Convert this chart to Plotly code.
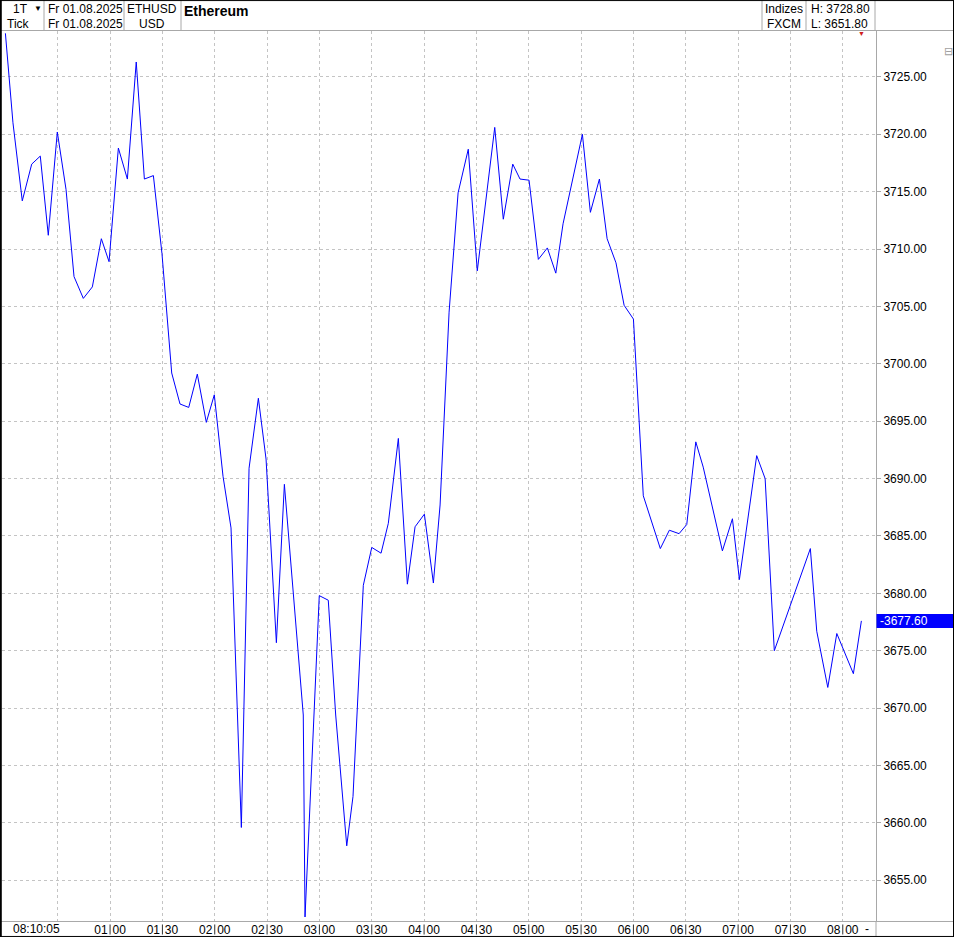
import plotly.graph_objects as go

DAY = "2025-08-01"

times = [
    "00:00:00", "00:04:20", "00:09:40", "00:15:05", "00:20:00", "00:24:35", "00:29:45", "00:34:45", "00:39:20", "00:44:40",
    "00:49:50", "00:55:00", "00:59:25", "01:04:45", "01:09:55", "01:15:00", "01:19:40", "01:24:50", "01:29:45", "01:35:20",
    "01:40:05", "01:45:05", "01:50:00", "01:55:10", "01:59:45", "02:04:45", "02:09:20", "02:15:15", "02:19:40", "02:25:00",
    "02:29:25", "02:35:20", "02:39:55", "02:50:45", "02:51:45", "02:59:55", "03:05:05", "03:09:20", "03:15:40", "03:19:15",
    "03:25:10", "03:30:00", "03:35:20", "03:39:30", "03:45:15", "03:50:25", "03:54:50", "04:00:10", "04:05:20", "04:09:10",
    "04:14:20", "04:19:30", "04:25:20", "04:30:30", "04:40:30", "04:45:25", "04:50:50", "04:55:00", "05:00:10", "05:05:30",
    "05:10:40", "05:15:30", "05:19:40", "05:30:45", "05:35:20", "05:40:30", "05:44:55", "05:50:00", "05:54:40", "06:00:00",
    "06:05:40", "06:15:25", "06:20:35", "06:26:10", "06:30:35", "06:35:45", "06:40:00", "06:51:00", "06:56:45", "07:00:45",
    "07:10:40", "07:15:30", "07:20:45", "07:41:25", "07:45:05", "07:51:25", "07:56:35", "08:06:05", "08:10:40",
]

prices = [
    3728.8, 3721.0, 3714.2, 3717.4, 3718.1, 3711.2, 3720.2, 3715.2, 3707.6, 3705.7,
    3706.7, 3710.9, 3708.9, 3718.8, 3716.1, 3726.3, 3716.1, 3716.4, 3709.6, 3699.2,
    3696.5, 3696.2, 3699.1, 3694.9, 3697.3, 3690.2, 3685.7, 3659.6, 3690.9, 3697.0,
    3691.7, 3675.7, 3689.5, 3669.4, 3651.8, 3679.8, 3679.4, 3669.4, 3658.0, 3662.3,
    3680.7, 3684.0, 3683.5, 3686.1, 3693.5, 3680.8, 3685.8, 3686.9, 3680.9, 3687.7,
    3704.5, 3714.9, 3718.7, 3708.1, 3720.6, 3712.6, 3717.4, 3716.1, 3716.0, 3709.1,
    3710.1, 3707.9, 3712.2, 3720.0, 3713.2, 3716.1, 3710.9, 3708.8, 3705.1, 3703.9,
    3688.5, 3683.9, 3685.5, 3685.2, 3686.0, 3693.2, 3691.0, 3683.7, 3686.5, 3681.2,
    3692.0, 3690.0, 3675.0, 3683.9, 3676.7, 3671.8, 3676.5, 3673.0, 3677.6,
]

tick_times = ["00:30", "01:00", "01:30", "02:00", "02:30", "03:00", "03:30", "04:00",
              "04:30", "05:00", "05:30", "06:00", "06:30", "07:00", "07:30", "08:00"]
tick_labels = ["", "01:00", "01:30", "02:00", "02:30", "03:00", "03:30", "04:00",
               "04:30", "05:00", "05:30", "06:00", "06:30", "07:00", "07:30", "08:00"]
y_ticks = [3655, 3660, 3665, 3670, 3675, 3680, 3685, 3690, 3695, 3700, 3705, 3710, 3715, 3720, 3725]

header_row1 = ["1T", "Fr 01.08.2025", "ETHUSD", "Ethereum", "Indizes", "H: 3728.80"]
header_row2 = ["Tick", "Fr 01.08.2025", "USD", "", "FXCM", "L: 3651.80"]
start_label = "08:10:05"

# ---------------- layout geometry ----------------
W, H = 954, 939
L, R, T, B = 2, 78, 31, 16
PW, PH = W - L - R, H - T - B
FONT = "Liberation Sans, Arial, sans-serif"
GRID = "#c4c4c4"
FRAME = "#a8a8a8"


def px(X):
    return (X - L) / PW


def py(Y):
    return (H - B - Y) / PH


x_vals = [f"{DAY} {t}" for t in times]

fig = go.Figure()
fig.add_trace(go.Scatter(
    x=x_vals, y=prices, mode="lines",
    line=dict(color="#0000ff", width=1),
    hoverinfo="skip", showlegend=False,
))

shapes = []
annotations = []


def hline(y, x0, x1, color, width=1):
    shapes.append(dict(type="line", xref="paper", yref="paper",
                       x0=px(x0), x1=px(x1), y0=py(y), y1=py(y),
                       line=dict(color=color, width=width), layer="above"))


def vline(x, y0, y1, color, width=1):
    shapes.append(dict(type="line", xref="paper", yref="paper",
                       x0=px(x), x1=px(x), y0=py(y0), y1=py(y1),
                       line=dict(color=color, width=width), layer="above"))


def text(X, Y, s, anchor="left", size=12, color="black", bold=False):
    annotations.append(dict(
        xref="paper", yref="paper", x=px(X), y=py(Y), text=f"<b>{s}</b>" if bold else s,
        showarrow=False, xanchor=anchor, yanchor="middle",
        font=dict(family=FONT, size=size, color=color),
    ))


# header separators
hline(30.5, 0, 954, FRAME)
for xv in [44, 124, 181, 762, 806, 875]:
    vline(xv, 0, 30.5, FRAME)

# y axis line extension into bottom strip
vline(876, 923, 939, FRAME)
hline(923.5, 0, 954, FRAME)

# outer black frame
vline(0.8, 0, 939, "black", 2)
vline(953.5, 0, 939, "black", 1)
hline(0.5, 0, 954, "black", 1)
hline(938.5, 0, 954, "black", 1)

# dark bars through the time labels
for tt, lab in zip(tick_times, tick_labels):
    if lab:
        shapes.append(dict(type="line", xref="x", yref="paper",
                           x0=f"{DAY} {tt}", x1=f"{DAY} {tt}", y0=py(926.5), y1=py(936.5),
                           line=dict(color="#303030", width=1), layer="above"))

# current price box
last = prices[-1]
shapes.append(dict(type="rect", xref="paper", yref="y", ysizemode="pixel", yanchor=last,
                   x0=px(876.5), x1=px(953), y0=-7, y1=7,
                   fillcolor="#0000ff", line=dict(width=0), layer="above"))
annotations.append(dict(xref="paper", yref="y", x=px(878), y=last, text=f"-{last:.2f}",
                        showarrow=False, xanchor="left", yanchor="middle",
                        font=dict(family=FONT, size=12, color="white")))

# header texts
text(11, 8.5, header_row1[0])
text(38, 8, "▼", anchor="center", size=8)
text(5, 23.5, header_row2[0])
text(46, 8.5, header_row1[1])
text(46, 23.5, header_row2[1])
text(152, 8.5, header_row1[2], anchor="center")
text(152, 23.5, header_row2[2], anchor="center")
text(182, 11, header_row1[3], size=14, bold=True)
text(784, 8.5, header_row1[4], anchor="center")
text(784, 23.5, header_row2[4], anchor="center")
text(809, 8.5, header_row1[5])
text(809, 23.5, header_row2[5])

# small markers
text(861, 34, "▼", anchor="center", size=7, color="#d02020")
text(948, 51, "⊟", anchor="center", size=11, color="#a0a0a0")

# time strip extras
text(11, 931.5, start_label)
text(867, 931.5, "-", anchor="center")

fig.update_layout(
    width=W, height=H,
    margin=dict(l=L, r=R, t=T, b=B, pad=0),
    paper_bgcolor="white", plot_bgcolor="white",
    font=dict(family=FONT, size=12, color="black"),
    shapes=shapes, annotations=annotations,
    showlegend=False,
    xaxis=dict(
        type="date",
        range=["2025-07-31 23:58:03", "2025-08-01 08:19:03"],
        tickmode="array",
        tickvals=[f"{DAY} {t}" for t in tick_times],
        ticktext=[lab.replace(":", "\u2009\u2009") for lab in tick_labels],
        showgrid=True, gridcolor=GRID, griddash="3px,3px", gridwidth=1,
        zeroline=False, showline=False, ticks="",
        tickfont=dict(family=FONT, size=12, color="black"),
        fixedrange=True,
    ),
    yaxis=dict(
        side="right",
        range=[3651.45, 3729.0],
        tickmode="array", tickvals=y_ticks,
        ticktext=[f"{v:.2f}" for v in y_ticks],
        showgrid=True, gridcolor=GRID, griddash="3px,3px", gridwidth=1,
        zeroline=False, showline=True, linecolor=FRAME, linewidth=1,
        ticks="outside", ticklen=4, tickcolor=FRAME,
        tickfont=dict(family=FONT, size=12, color="black"),
        fixedrange=True,
    ),
)

fig.write_html(
    "out.html",
    config={"displayModeBar": False},
    post_script="document.body.style.margin='0';document.body.style.overflow='hidden';",
)
